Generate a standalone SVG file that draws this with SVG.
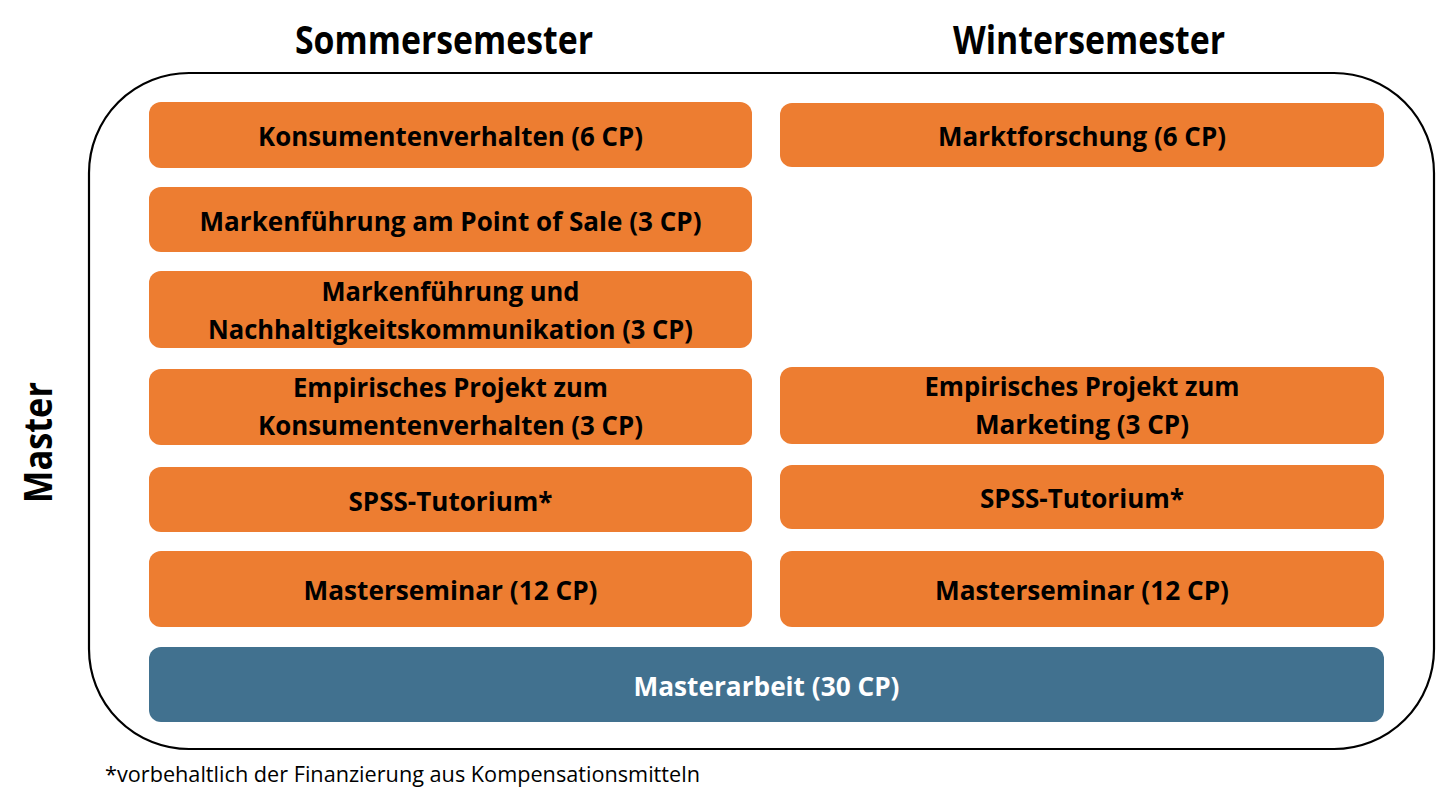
<svg xmlns="http://www.w3.org/2000/svg" width="1436" height="803" viewBox="0 0 1436 803">
<style>
.bg{fill:#ffffff}
.frame{fill:none;stroke:#000;stroke-width:2.2}
.o{fill:#ED7D31}
.b{fill:#41718F}
.t{font-family:"Open Sans","Noto Sans","Liberation Sans",sans-serif;font-weight:700;font-size:27px;fill:#000;text-anchor:middle}
.tw{fill:#fff}
.h{font-family:"Open Sans","Noto Sans","Liberation Sans",sans-serif;font-weight:700;font-size:40px;fill:#000;text-anchor:middle}
.f{font-family:"Open Sans","Noto Sans","Liberation Sans",sans-serif;font-weight:400;font-size:21px;fill:#000}
</style>
<rect class="bg" x="0" y="0" width="1436" height="803"/>
<g id="headers">
<text class="h" x="444" y="54" textLength="298" lengthAdjust="spacingAndGlyphs">Sommersemester</text>
<text class="h" x="1089" y="54" textLength="272" lengthAdjust="spacingAndGlyphs">Wintersemester</text>
</g>
<g id="master-label">
<text class="h" transform="translate(52,442.5) rotate(-90)" x="0" y="0" font-size="38" textLength="121" lengthAdjust="spacingAndGlyphs">Master</text>
</g>
<g id="master-frame">
<rect class="frame" x="89" y="73" width="1345" height="676" rx="100" ry="100"/>
</g>
<g id="connectors"></g>
<g id="node-konsumentenverhalten">
<rect class="o" x="149" y="102" width="603" height="66" rx="12"/>
<text class="t" x="450.5" y="146" textLength="385" lengthAdjust="spacingAndGlyphs">Konsumentenverhalten (6 CP)</text>
</g>
<g id="node-marktforschung">
<rect class="o" x="780" y="103" width="604" height="64" rx="12"/>
<text class="t" x="1082" y="146" textLength="288" lengthAdjust="spacingAndGlyphs">Marktforschung (6 CP)</text>
</g>
<g id="node-markenfuehrung-pos">
<rect class="o" x="149" y="187" width="603" height="65" rx="12"/>
<text class="t" x="450.5" y="230.5" textLength="502" lengthAdjust="spacingAndGlyphs">Markenführung am Point of Sale (3 CP)</text>
</g>
<g id="node-markenfuehrung-nachhaltigkeit">
<rect class="o" x="149" y="271" width="603" height="77" rx="12"/>
<text class="t" x="450.5" y="301" textLength="258" lengthAdjust="spacingAndGlyphs">Markenführung und</text>
<text class="t" x="450.5" y="339" textLength="485" lengthAdjust="spacingAndGlyphs">Nachhaltigkeitskommunikation (3 CP)</text>
</g>
<g id="node-empirisch-konsum">
<rect class="o" x="149" y="369" width="603" height="76" rx="12"/>
<text class="t" x="450.5" y="397" textLength="315" lengthAdjust="spacingAndGlyphs">Empirisches Projekt zum</text>
<text class="t" x="450.5" y="435" textLength="385" lengthAdjust="spacingAndGlyphs">Konsumentenverhalten (3 CP)</text>
</g>
<g id="node-empirisch-marketing">
<rect class="o" x="780" y="367" width="604" height="77" rx="12"/>
<text class="t" x="1082" y="396" textLength="315" lengthAdjust="spacingAndGlyphs">Empirisches Projekt zum</text>
<text class="t" x="1082" y="434" textLength="214" lengthAdjust="spacingAndGlyphs">Marketing (3 CP)</text>
</g>
<g id="node-spss-sommer">
<rect class="o" x="149" y="467" width="603" height="65" rx="12"/>
<text class="t" x="450.5" y="510.5" textLength="204" lengthAdjust="spacingAndGlyphs">SPSS-Tutorium*</text>
</g>
<g id="node-spss-winter">
<rect class="o" x="780" y="465" width="604" height="64" rx="12"/>
<text class="t" x="1082" y="508" textLength="204" lengthAdjust="spacingAndGlyphs">SPSS-Tutorium*</text>
</g>
<g id="node-masterseminar-sommer">
<rect class="o" x="149" y="551" width="603" height="76" rx="12"/>
<text class="t" x="450.5" y="600" textLength="294" lengthAdjust="spacingAndGlyphs">Masterseminar (12 CP)</text>
</g>
<g id="node-masterseminar-winter">
<rect class="o" x="780" y="551" width="604" height="76" rx="12"/>
<text class="t" x="1082" y="600" textLength="294" lengthAdjust="spacingAndGlyphs">Masterseminar (12 CP)</text>
</g>
<g id="node-masterarbeit">
<rect class="b" x="149" y="647" width="1235" height="75" rx="12"/>
<text class="t tw" x="766.5" y="695.5" textLength="266" lengthAdjust="spacingAndGlyphs">Masterarbeit (30 CP)</text>
</g>
<g id="footnote">
<text class="f" x="105" y="782" textLength="595" lengthAdjust="spacingAndGlyphs">*vorbehaltlich der Finanzierung aus Kompensationsmitteln</text>
</g>
</svg>
